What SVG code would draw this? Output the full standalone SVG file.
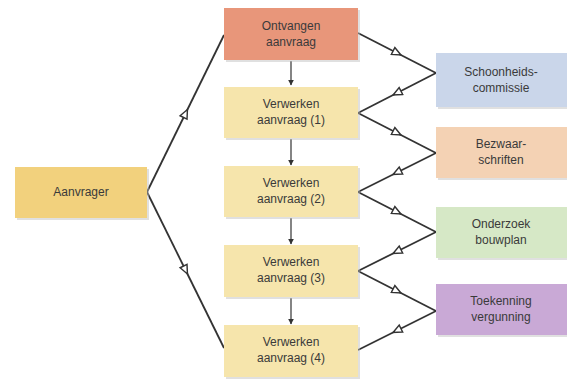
<svg xmlns="http://www.w3.org/2000/svg" width="567" height="383" viewBox="0 0 567 383">
<defs>
<marker id="open" viewBox="0 0 10 10" refX="5" refY="5" markerWidth="11" markerHeight="11" markerUnits="userSpaceOnUse" orient="auto">
<path d="M1,1.5 L9,5 L1,8.5 Z" fill="#fff" stroke="#333" stroke-width="1.3"/>
</marker>
<marker id="solid" viewBox="0 0 10 10" refX="9" refY="5" markerWidth="6" markerHeight="6" markerUnits="userSpaceOnUse" orient="auto">
<path d="M0,0 L10,5 L0,10 Z" fill="#333"/>
</marker>
</defs>
<style>
.box{stroke:none}
.sh{fill:#bbb;opacity:0.45}
.t{font-family:"Liberation Sans",Arial,sans-serif;font-size:12px;fill:#3a3a3a;text-anchor:middle}
.c{fill:none;stroke:#333;stroke-width:1.8}
.v{fill:none;stroke:#333;stroke-width:1.2}
</style>
<rect width="567" height="383" fill="#fff"/>
<g id="connectors">
<polyline class="c" points="147,192 185.5,113.5 224,35" marker-mid="url(#open)"/>
<polyline class="c" points="147,192 185.5,270 224,348" marker-mid="url(#open)"/>
<polyline class="c" points="358,33 397,53 436,73" marker-mid="url(#open)"/>
<polyline class="c" points="436,73 397,93 358,113" marker-mid="url(#open)"/>
<polyline class="c" points="358,113 397,133 436,153" marker-mid="url(#open)"/>
<polyline class="c" points="436,153 397,172.5 358,192" marker-mid="url(#open)"/>
<polyline class="c" points="358,192 397,212 436,232" marker-mid="url(#open)"/>
<polyline class="c" points="436,232 397,251.5 358,271" marker-mid="url(#open)"/>
<polyline class="c" points="358,271 397,291 436,311" marker-mid="url(#open)"/>
<polyline class="c" points="436,311 397,330.5 358,350" marker-mid="url(#open)"/>
<line class="v" x1="291" y1="61" x2="291" y2="85" marker-end="url(#solid)"/>
<line class="v" x1="291" y1="139" x2="291" y2="165" marker-end="url(#solid)"/>
<line class="v" x1="291" y1="218" x2="291" y2="244" marker-end="url(#solid)"/>
<line class="v" x1="291" y1="298" x2="291" y2="324" marker-end="url(#solid)"/>
</g>
<g id="aanvrager">
<rect class="sh" x="17" y="169" width="132" height="51"/>
<rect class="box" x="15" y="167" width="132" height="51" fill="#F2D17D"/>
<text class="t" x="81" y="196">Aanvrager</text>
</g>
<g id="ontvangen">
<rect class="sh" x="226" y="10" width="134" height="52"/>
<rect class="box" x="224" y="8" width="134" height="52" fill="#E8967A"/>
<text class="t" x="291" y="30">Ontvangen</text>
<text class="t" x="291" y="46">aanvraag</text>
</g>
<g id="verwerken1">
<rect class="sh" x="226" y="89" width="134" height="51"/>
<rect class="box" x="224" y="87" width="134" height="51" fill="#F6E5AC"/>
<text class="t" x="291" y="108">Verwerken</text>
<text class="t" x="291" y="124">aanvraag (1)</text>
</g>
<g id="verwerken2">
<rect class="sh" x="226" y="168" width="134" height="51"/>
<rect class="box" x="224" y="166" width="134" height="51" fill="#F6E5AC"/>
<text class="t" x="291" y="187">Verwerken</text>
<text class="t" x="291" y="203">aanvraag (2)</text>
</g>
<g id="verwerken3">
<rect class="sh" x="226" y="247" width="134" height="52"/>
<rect class="box" x="224" y="245" width="134" height="52" fill="#F6E5AC"/>
<text class="t" x="291" y="266">Verwerken</text>
<text class="t" x="291" y="282">aanvraag (3)</text>
</g>
<g id="verwerken4">
<rect class="sh" x="226" y="327" width="134" height="52"/>
<rect class="box" x="224" y="325" width="134" height="52" fill="#F6E5AC"/>
<text class="t" x="291" y="346">Verwerken</text>
<text class="t" x="291" y="362">aanvraag (4)</text>
</g>
<g id="schoonheidscommissie">
<rect class="sh" x="438" y="55" width="131" height="54"/>
<rect class="box" x="436" y="53" width="131" height="54" fill="#CAD6EA"/>
<text class="t" x="501" y="76">Schoonheids-</text>
<text class="t" x="501" y="92">commissie</text>
</g>
<g id="bezwaarschriften">
<rect class="sh" x="438" y="129" width="131" height="51"/>
<rect class="box" x="436" y="127" width="131" height="51" fill="#F4D2B4"/>
<text class="t" x="501" y="148">Bezwaar-</text>
<text class="t" x="501" y="164">schriften</text>
</g>
<g id="onderzoek">
<rect class="sh" x="438" y="209" width="131" height="51"/>
<rect class="box" x="436" y="207" width="131" height="51" fill="#D6E8C6"/>
<text class="t" x="501" y="228">Onderzoek</text>
<text class="t" x="501" y="244">bouwplan</text>
</g>
<g id="toekenning">
<rect class="sh" x="438" y="286" width="131" height="51"/>
<rect class="box" x="436" y="284" width="131" height="51" fill="#C9A9D6"/>
<text class="t" x="501" y="305">Toekenning</text>
<text class="t" x="501" y="321">vergunning</text>
</g>
</svg>
